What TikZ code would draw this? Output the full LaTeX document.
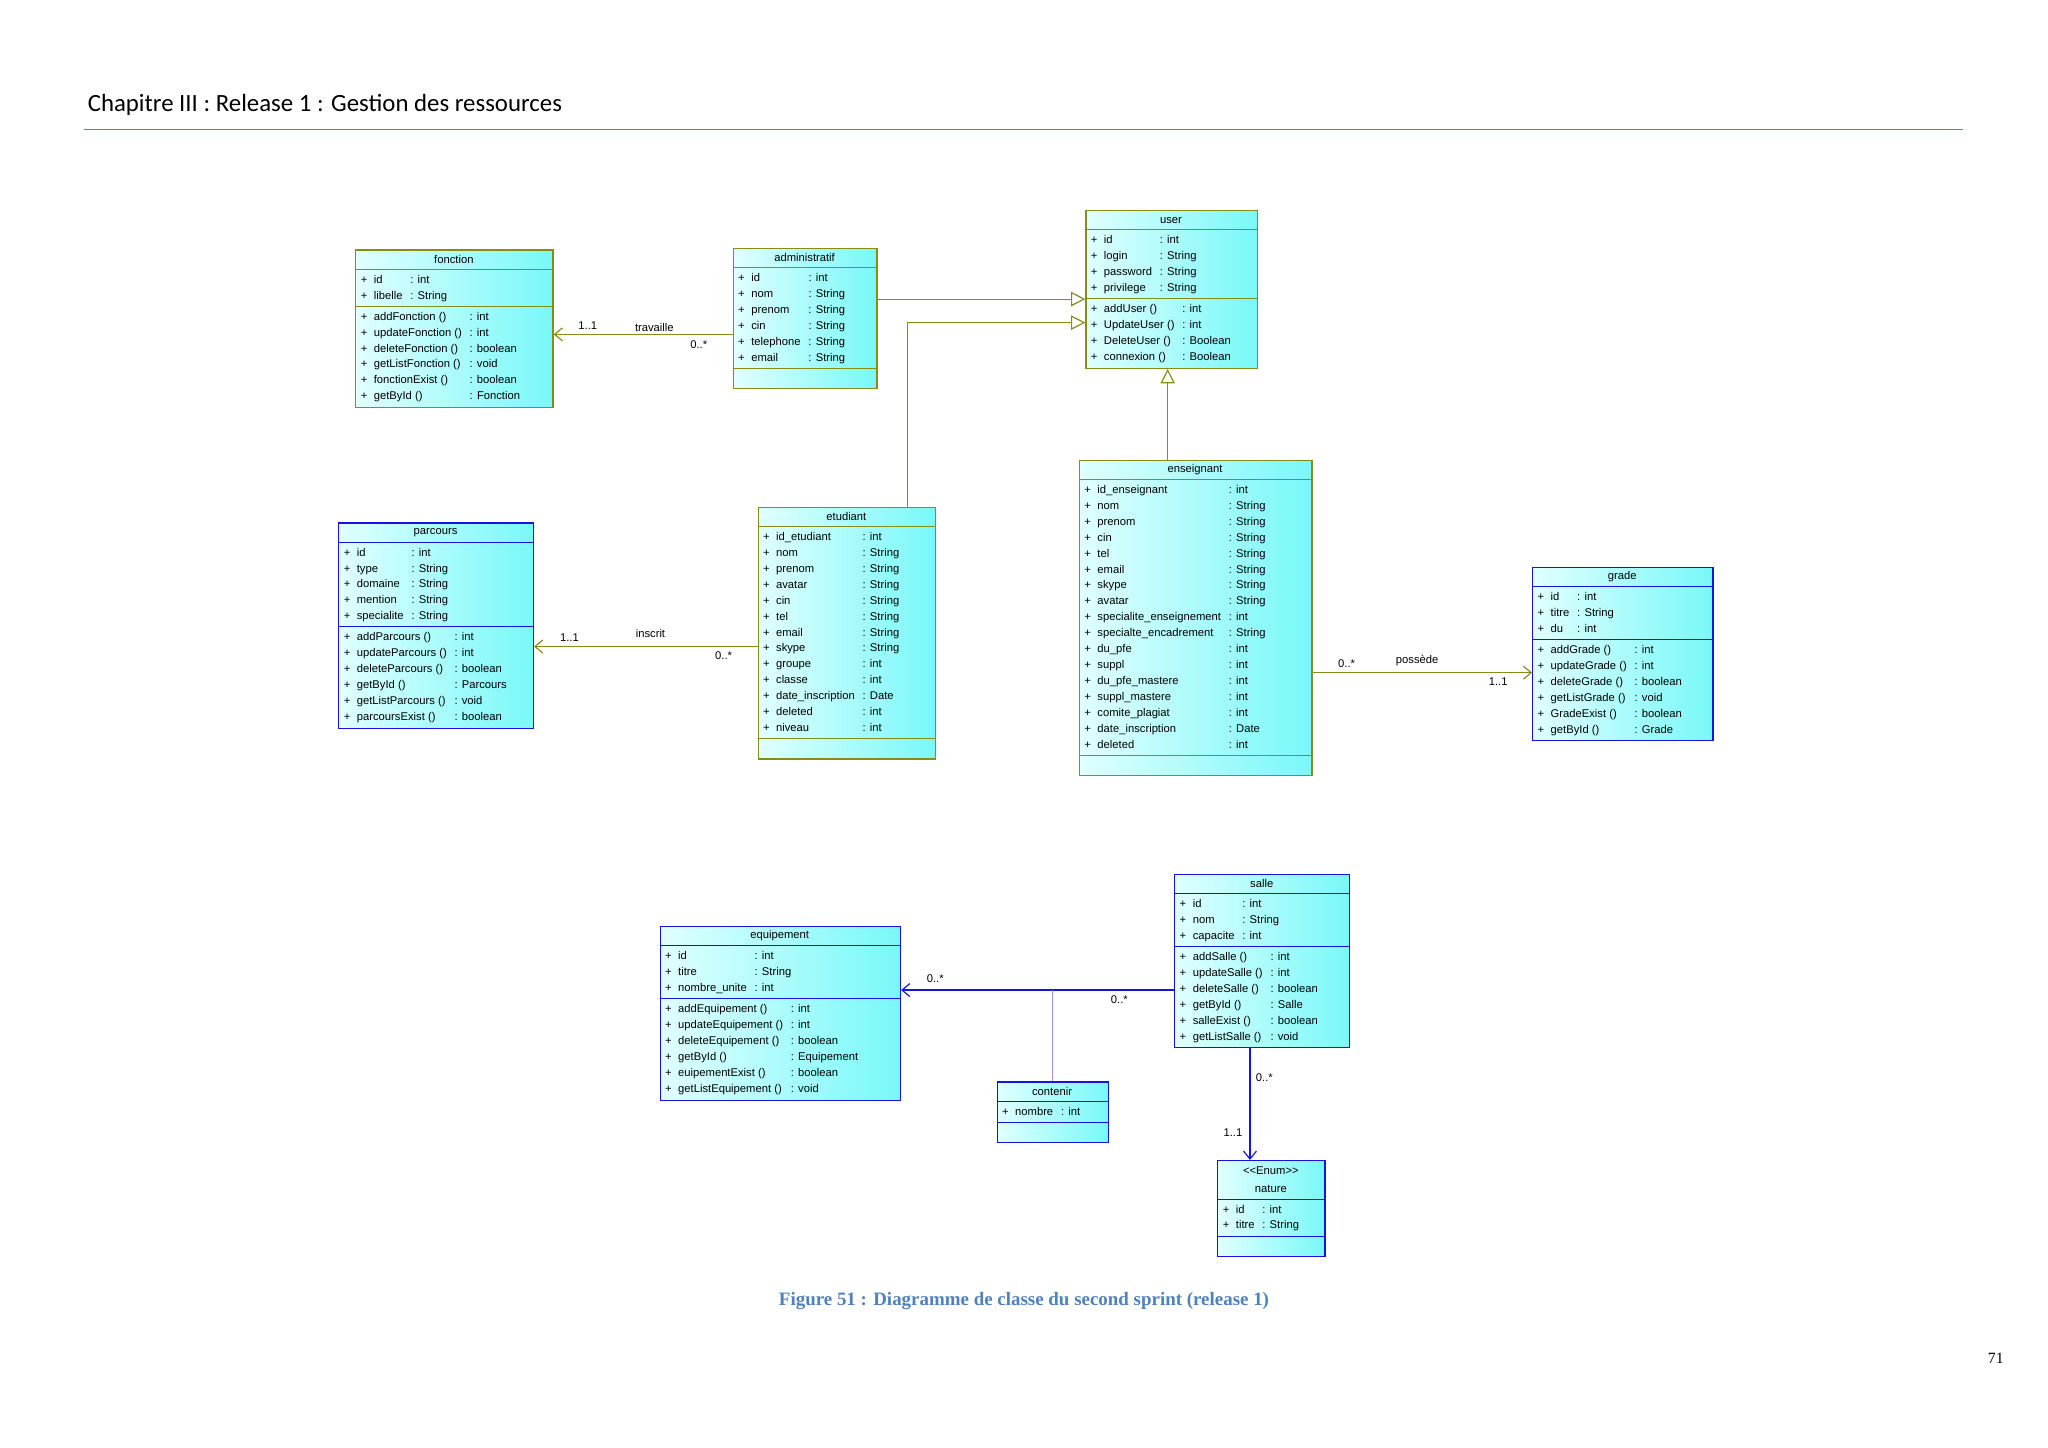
\documentclass[tikz,border=0pt]{standalone}
\usepackage{fontspec}
\setmainfont{Liberation Sans}
\newfontfamily\hdrfont{Carlito}
\newfontfamily\serfont{Liberation Serif}
\usetikzlibrary{arrows.meta}
\definecolor{oliv}{RGB}{135,140,20}
\definecolor{blu}{RGB}{20,20,225}
\definecolor{cL}{RGB}{225,255,255}
\definecolor{cR}{RGB}{120,248,248}
\definecolor{capblue}{RGB}{79,129,189}
\definecolor{lilac}{RGB}{150,150,230}
\def\cc{oliv}\def\ttl{}
\newcommand\ucls[9]{%
 \pgfmathsetmacro\yA{#3+#5}%
 \pgfmathsetmacro\yB{\yA+#6*12.2+4}%
 \pgfmathsetmacro\yC{ifthenelse(#8==0,\yB+15,\yB+#8*12.2+4)}%
 \pgfmathsetmacro\hh{\yC-#3}%
 \node[draw=\cc, line width=0.9pt, left color=cL, right color=cR, minimum width=#4pt, minimum height=\hh pt, anchor=north west, inner sep=0] (#1) at (#2,#3) {};
 \draw[\cc, line width=0.8pt] (#2,\yA) -- ++(#4,0) (#2,\yB) -- ++(#4,0);
 \node[align=center, font=\fontsize{8.6}{13.5}\selectfont] at ({#2+#4/2},{#3+#5/2}) {\ttl};
 \node[anchor=north west, inner sep=0, font=\fontsize{8.6}{12.2}\selectfont] at ({#2+4},{\yA+2}) {\begin{tabular}{@{}l@{\hspace{5pt}}l@{\hspace{6pt}}l@{}}#7\end{tabular}};
 \ifnum#8>0
 \node[anchor=north west, inner sep=0, font=\fontsize{8.6}{12.2}\selectfont] at ({#2+4},{\yB+2}) {\begin{tabular}{@{}l@{\hspace{5pt}}l@{\hspace{6pt}}l@{}}#9\end{tabular}};
 \fi}
\tikzset{
 assoc/.style={oliv, line width=0.9pt, -{Straight Barb[length=6pt,width=10pt]}},
 gen/.style={oliv, line width=0.9pt, -{Triangle[open, fill=white, length=11pt, width=11pt]}},
 bassoc/.style={blu, line width=0.9pt, -{Straight Barb[length=6pt,width=10pt]}},
 lbl/.style={font=\fontsize{8.6}{10}\selectfont, inner sep=0}
}
\begin{document}
\begin{tikzpicture}[x=1pt,y=-1pt]
\useasboundingbox[fill=white] (0,0) rectangle (1568,1108);
\node[anchor=west, inner sep=0, font=\hdrfont\fontsize{19}{22}\selectfont] (hdr) at (67,80) {Chapitre III : Release 1 : Gestion des ressources};
\draw[capblue!70!gray, line width=0.9pt] (64,99) -- (1503,99);
\node[font=\serfont\bfseries\fontsize{14.5}{17}\selectfont, text=capblue] (cap) at (784,996) {Figure 51 : Diagramme de classe du second sprint (release 1)};
\node[font=\serfont\fontsize{12}{14}\selectfont] (pg) at (1528,1040) {71};

\def\cc{oliv}
\def\ttl{fonction}
\ucls{fonction}{272}{191}{151}{15}{2}{+&id&: int\\+&libelle&: String}{6}{+&addFonction ()&: int\\+&updateFonction ()&: int\\+&deleteFonction ()&: boolean\\+&getListFonction ()&: void\\+&fonctionExist ()&: boolean\\+&getById ()&: Fonction}
\def\ttl{administratif}
\ucls{administratif}{561}{190}{110}{15}{6}{+&id&: int\\+&nom&: String\\+&prenom&: String\\+&cin&: String\\+&telephone&: String\\+&email&: String}{0}{}
\def\ttl{user}
\ucls{user}{831}{161}{131}{15}{4}{+&id&: int\\+&login&: String\\+&password&: String\\+&privilege&: String}{4}{+&addUser ()&: int\\+&UpdateUser ()&: int\\+&DeleteUser ()&: Boolean\\+&connexion ()&: Boolean}
\def\ttl{enseignant}
\ucls{enseignant}{826}{352}{178}{15}{17}{+&id\_enseignant&: int\\+&nom&: String\\+&prenom&: String\\+&cin&: String\\+&tel&: String\\+&email&: String\\+&skype&: String\\+&avatar&: String\\+&specialite\_enseignement&: int\\+&specialte\_encadrement&: String\\+&du\_pfe&: int\\+&suppl&: int\\+&du\_pfe\_mastere&: int\\+&suppl\_mastere&: int\\+&comite\_plagiat&: int\\+&date\_inscription&: Date\\+&deleted&: int}{0}{}
\def\ttl{etudiant}
\ucls{etudiant}{580}{388}{136}{15}{13}{+&id\_etudiant&: int\\+&nom&: String\\+&prenom&: String\\+&avatar&: String\\+&cin&: String\\+&tel&: String\\+&email&: String\\+&skype&: String\\+&groupe&: int\\+&classe&: int\\+&date\_inscription&: Date\\+&deleted&: int\\+&niveau&: int}{0}{}

\def\cc{blu}
\def\ttl{parcours}
\ucls{parcours}{259}{400}{149}{15}{5}{+&id&: int\\+&type&: String\\+&domaine&: String\\+&mention&: String\\+&specialite&: String}{6}{+&addParcours ()&: int\\+&updateParcours ()&: int\\+&deleteParcours ()&: boolean\\+&getById ()&: Parcours\\+&getListParcours ()&: void\\+&parcoursExist ()&: boolean}
\def\ttl{grade}
\ucls{grade}{1173}{434}{138}{15}{3}{+&id&: int\\+&titre&: String\\+&du&: int}{6}{+&addGrade ()&: int\\+&updateGrade ()&: int\\+&deleteGrade ()&: boolean\\+&getListGrade ()&: void\\+&GradeExist ()&: boolean\\+&getById ()&: Grade}
\def\ttl{salle}
\ucls{salle}{899}{669}{134}{15}{3}{+&id&: int\\+&nom&: String\\+&capacite&: int}{6}{+&addSalle ()&: int\\+&updateSalle ()&: int\\+&deleteSalle ()&: boolean\\+&getById ()&: Salle\\+&salleExist ()&: boolean\\+&getListSalle ()&: void}
\def\ttl{equipement}
\ucls{equipement}{505}{709}{184}{15}{3}{+&id&: int\\+&titre&: String\\+&nombre\_unite&: int}{6}{+&addEquipement ()&: int\\+&updateEquipement ()&: int\\+&deleteEquipement ()&: boolean\\+&getById ()&: Equipement\\+&euipementExist ()&: boolean\\+&getListEquipement ()&: void}
\def\ttl{contenir}
\ucls{contenir}{763}{828}{85}{15}{1}{+&nombre&: int}{0}{}
\def\ttl{\textless\kern0pt\textless Enum\textgreater\kern0pt\textgreater\\nature}
\ucls{nature}{932}{888}{82}{30}{2}{+&id&: int\\+&titre&: String}{0}{}

% connectors
\draw[assoc] (administratif.west |- 0,256) -- (fonction.east |- 0,256);
\node[lbl] at (450,249) {1..1};
\node[lbl] at (501,251) {travaille};
\node[lbl] at (535,264) {0..*};
\draw[gen] (administratif.east |- 0,229) -- (user.west |- 0,229);
\draw[gen] (etudiant.north -| 695,0) |- (user.west |- 0,247);
\draw[gen] (enseignant.north -| 894,0) -- (user.south -| 894,0);
\draw[assoc] (etudiant.west |- 0,495) -- (parcours.east |- 0,495);
\node[lbl] at (436,488) {1..1};
\node[lbl] at (498,485) {inscrit};
\node[lbl] at (554,502) {0..*};
\draw[assoc] (enseignant.east |- 0,515) -- (grade.west |- 0,515);
\node[lbl] at (1031,508) {0..*};
\node[lbl] at (1085,506) {possède};
\node[lbl] at (1147,522) {1..1};
\draw[bassoc] (salle.west |- 0,758) -- (equipement.east |- 0,758);
\node[lbl] at (716,749) {0..*};
\node[lbl] at (857,765) {0..*};
\coordinate (cj) at (806,758);
\draw[lilac, line width=0.7pt] (cj) -- (cj |- contenir.north);
\draw[bassoc] (salle.south -| 957,0) -- (nature.north -| 957,0);
\node[lbl] at (968,825) {0..*};
\node[lbl] at (944,867) {1..1};
\end{tikzpicture}
\end{document}
